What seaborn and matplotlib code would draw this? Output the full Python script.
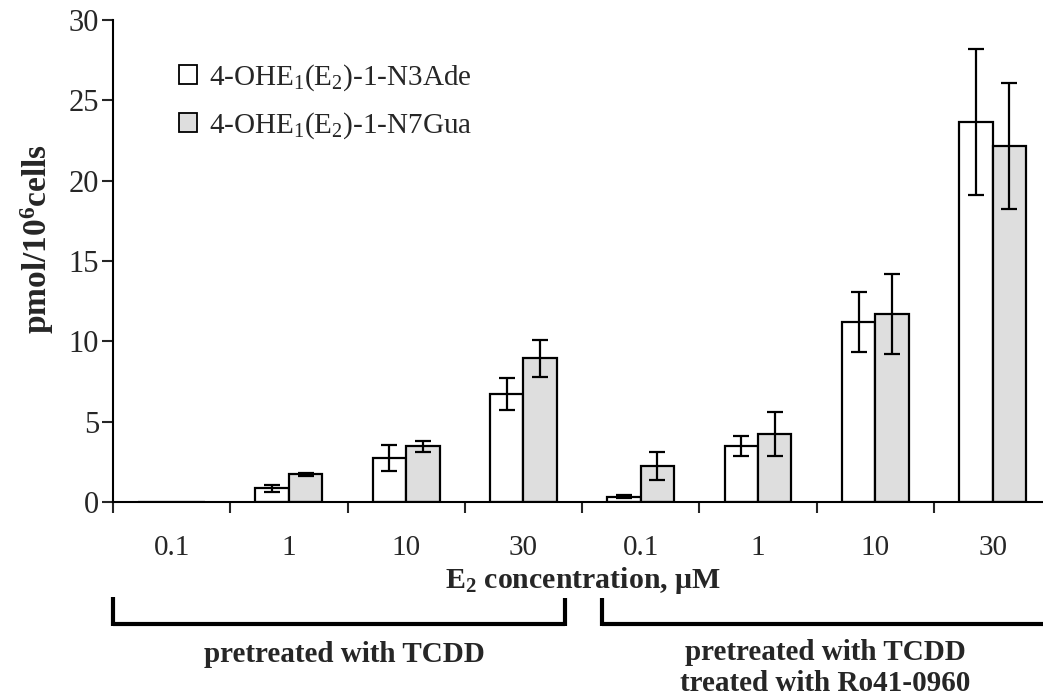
import numpy as np
import pandas as pd
import matplotlib
matplotlib.use("Agg")
import matplotlib.pyplot as plt
import seaborn as sns
from matplotlib.patches import Patch
from matplotlib.lines import Line2D

# ---- data ----
conditions = ["TCDD 0.1", "TCDD 1", "TCDD 10", "TCDD 30",
              "TCDD+Ro 0.1", "TCDD+Ro 1", "TCDD+Ro 10", "TCDD+Ro 30"]
conc_labels = ["0.1", "1", "10", "30", "0.1", "1", "10", "30"]
series_names = ["4-OHE$_1$(E$_2$)-1-N3Ade", "4-OHE$_1$(E$_2$)-1-N7Gua"]
n3ade = [0.0, 0.85, 2.74, 6.72, 0.33, 3.47, 11.18, 23.65]
n3ade_err = [np.nan, 0.2, 0.8, 1.0, 0.08, 0.62, 1.86, 4.55]
n7gua = [0.0, 1.72, 3.47, 8.94, 2.24, 4.21, 11.7, 22.15]
n7gua_err = [np.nan, 0.1, 0.33, 1.15, 0.87, 1.37, 2.5, 3.9]
group_labels = ["pretreated with TCDD", "pretreated with TCDD\ntreated with Ro41-0960"]
y_ticks = [0, 5, 10, 15, 20, 25, 30]

df = pd.DataFrame({
    "condition": conditions * 2,
    "value": n3ade + n7gua,
    "err": n3ade_err + n7gua_err,
    "series": [series_names[0]] * 8 + [series_names[1]] * 8,
})

sns.set_style("ticks")
plt.rcParams["font.family"] = ["Liberation Serif", "DejaVu Serif"]
plt.rcParams["mathtext.fontset"] = "custom"
plt.rcParams["mathtext.rm"] = "Liberation Serif"
plt.rcParams["mathtext.it"] = "Liberation Serif:italic"
plt.rcParams["mathtext.bf"] = "Liberation Serif:bold"

fig = plt.figure(figsize=(10.43, 6.98), dpi=100)
ax = fig.add_axes([113 / 1043, 1 - 502 / 698, 1 - 113 / 1043, (502 - 20) / 698])

colors = {series_names[0]: "#ffffff", series_names[1]: "#dedede"}
sns.barplot(data=df, x="condition", y="value", hue="series", order=conditions,
            hue_order=series_names, palette=colors, width=0.57,
            edgecolor="black", linewidth=1.6, errorbar=None, legend=False, ax=ax)

# error bars positioned on the bars seaborn drew
patches = [p for p in ax.patches]
for p, (_, row) in zip(patches, df.iterrows()):
    if np.isnan(row["err"]):
        continue
    xc = p.get_x() + p.get_width() / 2
    ax.errorbar(xc, row["value"], yerr=row["err"], color="black",
                capsize=5.5, capthick=1.6, elinewidth=1.6, fmt="none", zorder=5)

ax.set_xlim(-0.5, 7.43)
ax.set_ylim(0, 30)
ax.set_yticks(y_ticks)
ax.set_yticklabels([str(t) for t in y_ticks], fontsize=22)
ax.set_xticks(np.arange(-0.5, 7.5, 1.0))
ax.set_xticklabels([])
ax.set_xticks(np.arange(8), minor=True)
ax.set_xticklabels(conc_labels, minor=True, fontsize=21)
ax.tick_params(axis="x", which="major", length=8, width=1.5, direction="out")
ax.tick_params(axis="x", which="minor", length=0, pad=24)
ax.tick_params(axis="y", length=8, width=1.5, direction="out", pad=2)
ax.set_xlabel("")
ax.set_ylabel(r"pmol/10$^{\mathbf{6}}$cells", fontsize=24, fontweight="bold")
ax.yaxis.set_label_coords(-0.061, 0.545)
for s in ["top", "right"]:
    ax.spines[s].set_visible(False)
for s in ["left", "bottom"]:
    ax.spines[s].set_linewidth(1.5)
    ax.spines[s].set_color("black")

handles = [Patch(facecolor=colors[n], edgecolor="black", linewidth=1.3) for n in series_names]
ax.legend(handles, series_names, loc="upper left", bbox_to_anchor=(179 / 1043, 1 - 62 / 698),
          bbox_transform=fig.transFigure, frameon=False, fontsize=21, borderpad=0,
          borderaxespad=0, handlelength=0.62, handleheight=0.62, handletextpad=0.4,
          labelspacing=0.6)

fig.text(583 / 1043, 1 - 581 / 698, r"E$_\mathbf{2}$ concentration, μM", ha="center", va="center",
         fontsize=21.5, fontweight="bold")

# group brackets
lw = 3.0
def fline(xs, ys):
    fig.add_artist(Line2D([x / 1043 for x in xs], [1 - y / 698 for y in ys], color="black",
                          lw=lw, transform=fig.transFigure, solid_capstyle="butt"))

fline([113, 565], [624, 624])
fline([113, 113], [597, 625.5])
fline([565, 565], [598, 625.5])
fline([602, 1043], [624, 624])
fline([602, 602], [598, 625.5])

fig.text(344 / 1043, 1 - 655 / 698, group_labels[0], ha="center", va="center",
         fontsize=21, fontweight="bold")
fig.text(825 / 1043, 1 - 668 / 698, group_labels[1], ha="center", va="center",
         fontsize=21, fontweight="bold", linespacing=1.17)

fig.savefig("out.png", dpi=100)
